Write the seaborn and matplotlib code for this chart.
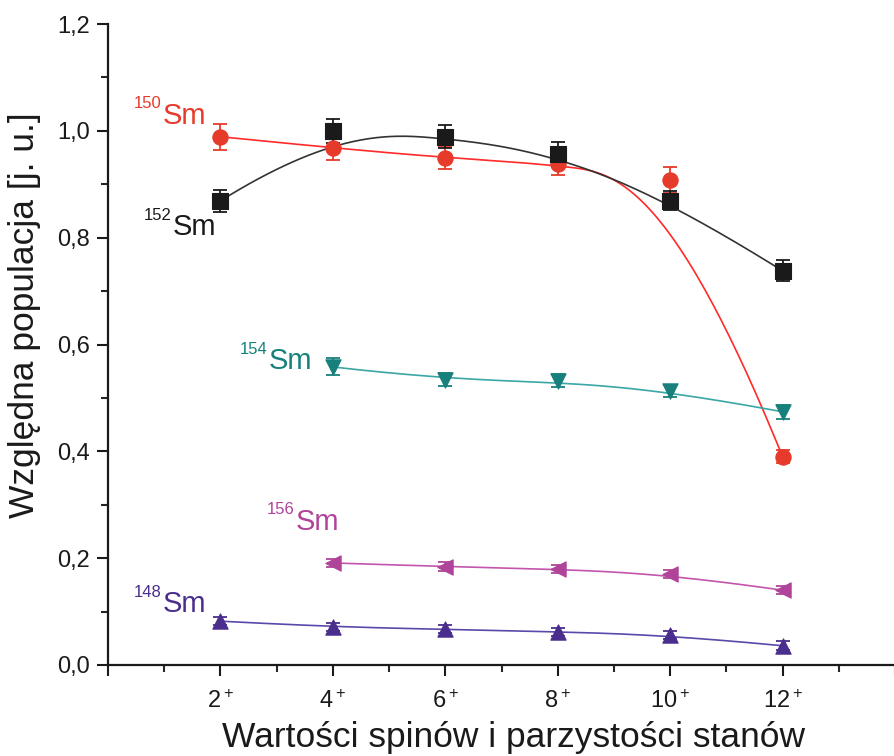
import numpy as np
import pandas as pd
import matplotlib
matplotlib.use("Agg")
import matplotlib.pyplot as plt
import seaborn as sns

# ---- data ----
spins = [2, 4, 6, 8, 10, 12]
x_tick_labels = ["2$^+$", "4$^+$", "6$^+$", "8$^+$", "10$^+$", "12$^+$"]

sm150 = [0.989, 0.968, 0.949, 0.938, 0.908, 0.390]
sm150_err = [0.024, 0.022, 0.020, 0.020, 0.025, 0.012]
sm152 = [0.869, 1.000, 0.989, 0.957, 0.869, 0.738]
sm152_err = [0.021, 0.022, 0.022, 0.022, 0.018, 0.020]
spins_154 = [4, 6, 8, 10, 12]
sm154 = [0.558, 0.534, 0.532, 0.513, 0.474]
sm154_err = [0.016, 0.012, 0.012, 0.012, 0.013]
spins_156 = [4, 6, 8, 10, 12]
sm156 = [0.191, 0.184, 0.180, 0.170, 0.140]
sm156_err = [0.008, 0.008, 0.008, 0.008, 0.008]
sm148 = [0.082, 0.071, 0.067, 0.062, 0.056, 0.036]
sm148_err = [0.008, 0.008, 0.008, 0.008, 0.008, 0.008]

y_tick_labels = ["0,0", "0,2", "0,4", "0,6", "0,8", "1,0", "1,2"]


def bspline(xs, ys, n=300, k=3):
    """Clamped uniform B-spline using data points as control points."""
    P = np.column_stack([xs, ys]).astype(float)
    m = len(P)
    k = min(k, m - 1)
    inner = np.arange(1, m - k)
    knots = np.concatenate([np.zeros(k + 1), inner, np.full(k + 1, m - k)]).astype(float)
    t = np.linspace(0, m - k, n)
    t[-1] -= 1e-9
    N = np.zeros((n, len(knots) - 1))
    for i in range(len(knots) - 1):
        N[:, i] = ((t >= knots[i]) & (t < knots[i + 1])).astype(float)
    for d in range(1, k + 1):
        Nn = np.zeros((n, len(knots) - 1 - d))
        for i in range(len(knots) - 1 - d):
            a = knots[i + d] - knots[i]
            b = knots[i + d + 1] - knots[i + 1]
            term = np.zeros(n)
            if a > 0:
                term += (t - knots[i]) / a * N[:, i]
            if b > 0:
                term += (knots[i + d + 1] - t) / b * N[:, i + 1]
            Nn[:, i] = term
        N = Nn
    C = N @ P
    return C[:, 0], C[:, 1]


sns.set_theme(style="ticks")
plt.rcParams["font.family"] = ["Liberation Sans", "DejaVu Sans"]
plt.rcParams["mathtext.fontset"] = "custom"
plt.rcParams["mathtext.rm"] = "Liberation Sans"
plt.rcParams["mathtext.it"] = "Liberation Sans"

fig = plt.figure(figsize=(8.95, 7.56), dpi=100)
ax = fig.add_axes([0.1207, 0.1204, 0.8793, 0.8478])

series = [
    ("150", spins, sm150, sm150_err, "#e63a2a", "#ff2a2a", "o", 11),
    ("152", spins, sm152, sm152_err, "#1a1a1a", "#333333", "s", 11),
    ("154", spins_154, sm154, sm154_err, "#17807c", "#3aa6a6", "v", 11),
    ("156", spins_156, sm156, sm156_err, "#b0449a", "#c455ae", "<", 11),
    ("148", spins, sm148, sm148_err, "#4a2e8e", "#5a48aa", "^", 11),
]

for name, xs, ys, errs, mc, lc, mk, ms in series:
    cx, cy = bspline(xs, ys)
    curve = pd.DataFrame({"x": cx, "y": cy})
    sns.lineplot(data=curve, x="x", y="y", ax=ax, color=lc, lw=1.2, sort=False,
                 estimator=None, zorder=2)
    ax.errorbar(xs, ys, yerr=errs, fmt="none", ecolor=mc, elinewidth=1.3,
                capsize=5, capthick=1.3, zorder=3)
    pts = pd.DataFrame({"x": xs, "y": ys})
    sns.scatterplot(data=pts, x="x", y="y", ax=ax, color=mc, marker=mk,
                    s=ms ** 2 * 1.0, edgecolor=mc, linewidth=0.8, zorder=4)

# labels for series
labels = [
    ("150", 0.98, 1.013, "#e63a2a"),
    ("152", 1.15, 0.805, "#1a1a1a"),
    ("154", 2.85, 0.554, "#17807c"),
    ("156", 3.33, 0.253, "#b0449a"),
    ("148", 0.98, 0.099, "#4a2e8e"),
]
for iso, lx, ly, c in labels:
    ax.text(lx, ly, "Sm", color=c, fontsize=21, ha="left", va="baseline", zorder=5)
    ax.text(lx - 0.02, ly + 0.029, iso, color=c, fontsize=12, ha="right",
            va="baseline", zorder=5)

ax.set_xlim(0, 14)
ax.set_ylim(0, 1.2)
ax.set_xticks([0] + spins + [14])
ax.set_xticklabels([""] + x_tick_labels + [""])
ax.set_xticks(np.arange(1, 14, 2), minor=True)
ax.set_yticks(np.arange(0, 1.21, 0.2))
ax.set_yticklabels(y_tick_labels)
ax.set_yticks(np.arange(0.1, 1.2, 0.2), minor=True)

ax.tick_params(axis="both", which="major", direction="out", length=8, width=1.5,
               labelsize=17, colors="#1a1a1a")
ax.tick_params(axis="both", which="minor", direction="out", length=5, width=1.5)
ax.tick_params(axis="x", pad=10)
ax.tick_params(axis="y", pad=5)

for s in ["top", "right"]:
    ax.spines[s].set_visible(False)
for s in ["left", "bottom"]:
    ax.spines[s].set_linewidth(1.6)
    ax.spines[s].set_color("#1a1a1a")

ax.set_xlabel("Wartości spinów i parzystości stanów", fontsize=25.5, color="#1a1a1a")
ax.set_ylabel("Względna populacja [j. u.]", fontsize=25.5, color="#1a1a1a")
ax.xaxis.set_label_coords(0.515, -0.088)
ax.yaxis.set_label_coords(-0.085, 0.546)

fig.savefig("out.png", dpi=100, facecolor="white")
